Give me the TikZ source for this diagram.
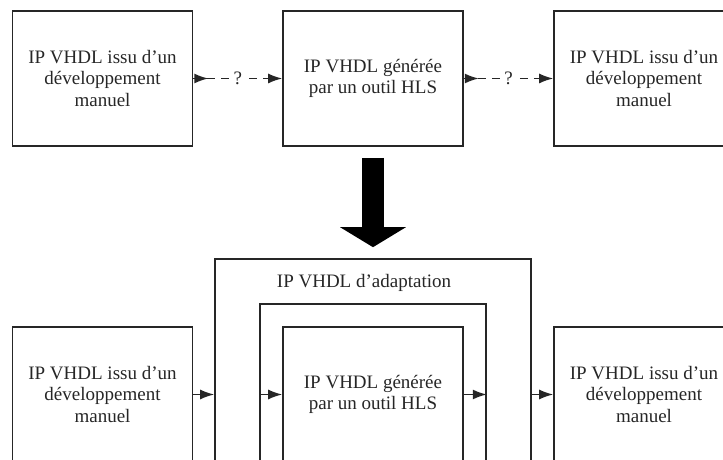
\documentclass[tikz,border=0pt]{standalone}
\usepackage{fontspec}
\setmainfont{Liberation Serif}
\usetikzlibrary{arrows.meta,decorations.markings}

\begin{document}
\begin{tikzpicture}[
    x=0.5pt,y=0.5pt,
    every node/.style={text=black!85,font=\fontsize{9.5}{10.8}\selectfont},
    block/.style={draw=black!85,line width=0.8pt,minimum width=90pt,
                  minimum height=67.5pt,align=center},
    frame/.style={draw=black!85,line width=0.8pt,inner sep=0pt},
    link/.style={line width=0.8pt,draw=black!85,-{Latex[length=7pt,width=5pt]}},
    guess/.style={link,dash pattern=on 4pt off 3pt,
                  postaction={decorate,decoration={markings,
                  mark=at position 7.5pt with {\arrow{Latex[length=7pt,width=5pt]}}}}},
    qmark/.style={fill=white,inner sep=1pt},
    bigarrow/.style={line width=11pt,draw=black,
                     -{Triangle[length=10pt,width=32.5pt]},
                     shorten <=5.5pt,shorten >=5.5pt}
]
    \path[use as bounding box,clip] (0,0) rectangle (723,460);

    % Current situation: a generated IP between two hand-written ones.
    \node[block] (topLeft)  at (102.5,381.5) {IP VHDL issu d'un\\développement\\manuel};
    \node[block] (topMid)   at (373,381.5)   {IP VHDL générée\\par un outil HLS};
    \node[block] (topRight) at (644,381.5)   {IP VHDL issu d'un\\développement\\manuel};
    \draw[guess] (topLeft.east) -- node[qmark] {?} (topMid.west);
    \draw[guess] (topMid.east)  -- node[qmark] {?} (topRight.west);

    % Proposed situation: the generated IP wrapped by an adaptation IP.
    \node[frame,minimum width=158pt,minimum height=120.5pt] (adapt) at (373,80.5) {};
    \node[frame,minimum width=113pt,minimum height=93pt]    (wrap)  at (373,63)   {};
    \node (adaptLabel) at (364,177) {IP VHDL d'adaptation};
    \node[block] (botLeft)  at (102.5,65.5) {IP VHDL issu d'un\\développement\\manuel};
    \node[block] (botMid)   at (373,65.5)   {IP VHDL générée\\par un outil HLS};
    \node[block] (botRight) at (644,65.5)   {IP VHDL issu d'un\\développement\\manuel};
    \draw[link] (botLeft.east) -- (botLeft.east -| adapt.west);
    \draw[link] (botMid.west -| wrap.west) -- (botMid.west);
    \draw[link] (botMid.east) -- (botMid.east -| wrap.east);
    \draw[link] (botRight.west -| adapt.east) -- (botRight.west);

    % Transition between the two situations.
    \draw[bigarrow] (topMid.south) -- (topMid.south |- adapt.north);
\end{tikzpicture}
\end{document}
